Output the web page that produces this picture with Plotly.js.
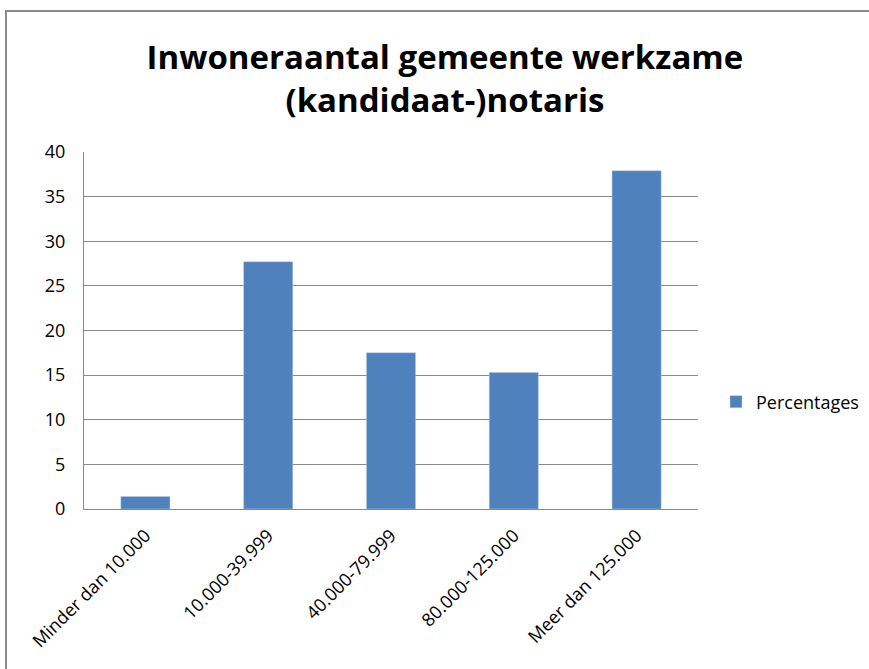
<!DOCTYPE html>
<html>
<head>
<meta charset="utf-8">
<script src="https://cdn.plot.ly/plotly-3.0.1.min.js"></script>
<style>
html,body{margin:0;padding:0;background:#fff;overflow:hidden;}
#chart{width:869px;height:669px;position:absolute;left:0;top:0;}
#frame{position:absolute;left:5px;top:10px;width:900px;height:700px;border-left:2px solid #8a8a8a;border-top:2px solid #8a8a8a;pointer-events:none;}
</style>
</head>
<body>
<div id="chart"></div>
<div id="frame"></div>
<script>
const categories = ["Minder dan 10.000", "10.000-39.999", "40.000-79.999", "80.000-125.000", "Meer dan 125.000"];
const percentages = [1.4, 27.7, 17.5, 15.3, 37.9];
const seriesName = "Percentages";
const yTicks = [0, 5, 10, 15, 20, 25, 30, 35, 40];

const font = "Open Sans, Lato, sans-serif";

Plotly.newPlot("chart", [{
  type: "bar",
  x: categories,
  y: percentages,
  name: seriesName,
  marker: {color: "#4f81bd", line: {color: "#b9cde5", width: 0.5}},
  showlegend: true
}], {
  width: 869, height: 669,
  margin: {l: 84, r: 171, t: 152, b: 160},
  paper_bgcolor: "#fff", plot_bgcolor: "#fff",
  bargap: 0.6,
  title: {
    text: "<b>Inwoneraantal gemeente werkzame<br>(kandidaat-)notaris</b>",
    font: {family: font, size: 33, color: "#000"},
    x: 0.512, xanchor: "center",
    yref: "container", y: 1 - 69 / 669, yanchor: "middle"
  },
  font: {family: font, size: 18, color: "#000"},
  xaxis: {
    type: "category",
    tickangle: -45,
    tickfont: {family: font, size: 18, color: "#000"},
    showline: true, linecolor: "#8a8a8a", linewidth: 1,
    showgrid: false, ticks: "", automargin: false,
    ticklabelstandoff: 8
  },
  yaxis: {
    range: [0, 40],
    tickvals: yTicks,
    ticktext: yTicks.map(String),
    tickfont: {family: font, size: 18, color: "#000"},
    showline: true, linecolor: "#8a8a8a", linewidth: 1,
    showgrid: true, gridcolor: "#8a8a8a", gridwidth: 1,
    zeroline: false, ticks: "", automargin: false,
    ticklabelstandoff: 14
  },
  legend: {
    xref: "container", yref: "container",
    x: 716 / 869, xanchor: "left", y: 1 - 402 / 669, yanchor: "middle",
    font: {family: font, size: 18, color: "#000"},
    bgcolor: "rgba(0,0,0,0)"
  }
}, {displayModeBar: false, staticPlot: true});
</script>
</body>
</html>
